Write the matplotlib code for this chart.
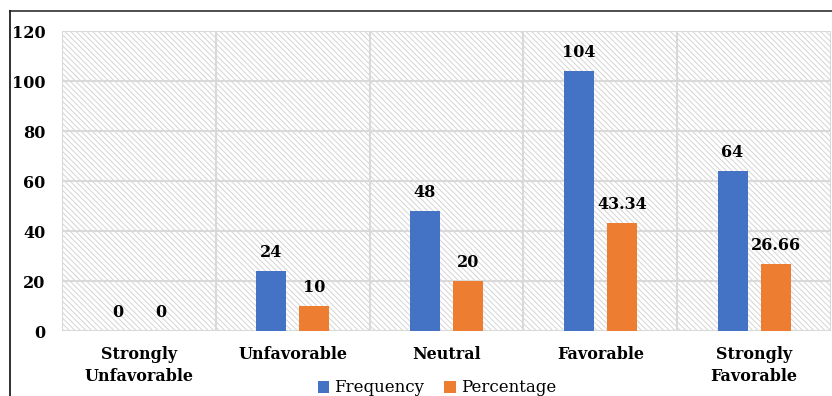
import matplotlib
matplotlib.use("Agg")
import matplotlib.pyplot as plt
import numpy as np
from matplotlib.patches import Rectangle, Patch
from matplotlib.lines import Line2D

categories = ["Strongly\nUnfavorable", "Unfavorable", "Neutral", "Favorable", "Strongly\nFavorable"]
frequency = [0, 24, 48, 104, 64]
percentage = [0, 10, 20, 43.34, 26.66]
freq_labels = ["0", "24", "48", "104", "64"]
pct_labels = ["0", "10", "20", "43.34", "26.66"]
yticks = [0, 20, 40, 60, 80, 100, 120]

blue = "#4472C4"
orange = "#ED7D31"
grid_c = "#D9D9D9"
font = "DejaVu Serif"

plt.rcParams['hatch.linewidth'] = 0.7
fig = plt.figure(figsize=(8.32, 3.96), dpi=100)
ax = fig.add_axes([62/832, 1-331/396, (831-62)/832, 300/396])

x = np.arange(len(categories))
w = 0.195
off = 0.14

# hatched background
bg = Rectangle((0, 0), 1, 1, transform=ax.transAxes, facecolor="white",
               edgecolor="#D4D4D4", hatch="\\\\\\\\\\\\", linewidth=0, zorder=0)
ax.add_patch(bg)

ax.bar(x - off, frequency, w, color=blue, zorder=3)
ax.bar(x + off, percentage, w, color=orange, zorder=3)

for xi, v, l in zip(x, frequency, freq_labels):
    ax.text(xi - off, v + 4, l, ha="center", va="bottom", fontsize=11.5,
            fontweight="bold", family=font, zorder=4)
for xi, v, l in zip(x, percentage, pct_labels):
    ax.text(xi + off, v + 4, l, ha="center", va="bottom", fontsize=11.5,
            fontweight="bold", family=font, zorder=4)

ax.set_xlim(-0.5, 4.5)
ax.set_ylim(0, 120)
ax.set_yticks(yticks)
ax.set_yticklabels([str(t) for t in yticks], fontsize=11.5, fontweight="bold", family=font)
ax.set_xticks(x)
ax.set_xticklabels(categories, fontsize=11.5, fontweight="bold", family=font, linespacing=1.35)
ax.tick_params(axis="both", length=0)
ax.tick_params(axis="y", pad=12)
ax.tick_params(axis="x", pad=11)

# gridlines
for t in yticks:
    ax.axhline(t, color=grid_c, linewidth=1.5, zorder=1)
for b in np.arange(-0.5, 5.0, 1.0):
    ax.axvline(b, color=grid_c, linewidth=1.5, zorder=1)
for s in ax.spines.values():
    s.set_visible(False)

handles = [Patch(facecolor=blue), Patch(facecolor=orange)]
fig.legend(handles, ["Frequency", "Percentage"], loc="center",
           bbox_to_anchor=(437/832, 1-388/396), ncol=2, frameon=False,
           handlelength=0.7, handleheight=0.7, handletextpad=0.3, columnspacing=1.2,
           prop={"family": font, "size": 12})

# outer frame
fig.add_artist(Line2D([10/832, 1.0], [1-11/396, 1-11/396], color="#404040", linewidth=1.3))
fig.add_artist(Line2D([10/832, 10/832], [0, 1-11/396], color="#202020", linewidth=1.3))

fig.savefig("out.png", dpi=100)
